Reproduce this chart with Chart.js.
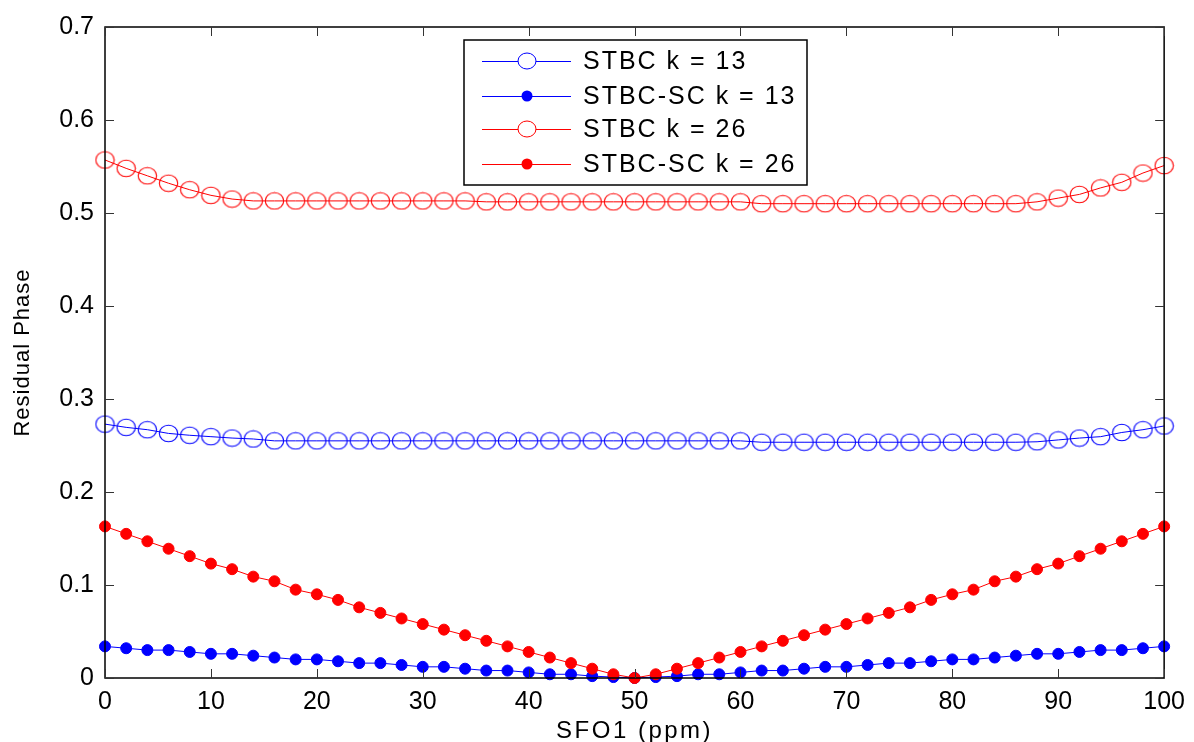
<!DOCTYPE html>
<html>
<head>
<meta charset="utf-8">
<title>Residual Phase vs SFO1</title>
<script src="https://cdn.jsdelivr.net/npm/chart.js@4/dist/chart.umd.min.js"></script>
<style>
  html, body { margin: 0; padding: 0; background: #fff; }
  #wrap { width: 1194px; height: 742px; }
</style>
</head>
<body>
<div id="wrap"><canvas id="phaseChart" width="1194" height="742"></canvas></div>
<script>
// SFO1 sample points (ppm)
const sfo = [0, 2, 4, 6, 8, 10, 12, 14, 16, 18, 20, 22, 24, 26, 28, 30, 32, 34, 36, 38, 40, 42, 44, 46, 48,
             50, 52, 54, 56, 58, 60, 62, 64, 66, 68, 70, 72, 74, 76, 78, 80, 82, 84, 86, 88, 90, 92, 94, 96, 98, 100];

const stbc13 = [0.273, 0.2695, 0.267, 0.263, 0.261, 0.2595, 0.258, 0.257, 0.255, 0.255, 0.255, 0.255, 0.255,
                0.255, 0.255, 0.255, 0.255, 0.255, 0.255, 0.255, 0.255, 0.255, 0.255, 0.255, 0.255, 0.255,
                0.255, 0.255, 0.255, 0.255, 0.255, 0.2535, 0.2535, 0.2535, 0.2535, 0.2535, 0.2535, 0.2535,
                0.2535, 0.2535, 0.2535, 0.2535, 0.2535, 0.2535, 0.254, 0.256, 0.258, 0.2595, 0.264, 0.267, 0.271];

const stbcSc13 = [0.034, 0.032, 0.030, 0.030, 0.028, 0.026, 0.026, 0.024, 0.022, 0.020, 0.020, 0.018, 0.016,
                  0.016, 0.014, 0.012, 0.012, 0.010, 0.008, 0.008, 0.006, 0.004, 0.004, 0.002, 0.001, 0.0,
                  0.001, 0.002, 0.004, 0.004, 0.006, 0.008, 0.008, 0.010, 0.012, 0.012, 0.014, 0.016, 0.016,
                  0.018, 0.020, 0.020, 0.022, 0.024, 0.026, 0.026, 0.028, 0.030, 0.030, 0.032, 0.034];

const stbc26 = [0.557, 0.548, 0.540, 0.532, 0.525, 0.519, 0.515, 0.513, 0.513, 0.513, 0.513, 0.513, 0.513,
                0.513, 0.513, 0.513, 0.513, 0.513, 0.512, 0.512, 0.512, 0.512, 0.512, 0.512, 0.512, 0.512,
                0.512, 0.512, 0.512, 0.512, 0.512, 0.510, 0.510, 0.510, 0.510, 0.510, 0.510, 0.510, 0.510,
                0.510, 0.510, 0.510, 0.510, 0.510, 0.512, 0.516, 0.520, 0.527, 0.533, 0.543, 0.551];

const stbcSc26 = [0.163, 0.155, 0.147, 0.139, 0.131, 0.123, 0.117, 0.109, 0.104, 0.095, 0.090, 0.084, 0.076,
                  0.070, 0.064, 0.058, 0.052, 0.046, 0.040, 0.034, 0.028, 0.022, 0.016, 0.010, 0.004, 0.0,
                  0.004, 0.010, 0.016, 0.022, 0.028, 0.034, 0.040, 0.046, 0.052, 0.058, 0.064, 0.070, 0.076,
                  0.084, 0.090, 0.095, 0.104, 0.109, 0.117, 0.123, 0.131, 0.139, 0.147, 0.155, 0.163];

const seriesNames = ['STBC k = 13', 'STBC-SC k = 13', 'STBC k = 26', 'STBC-SC k = 26'];
const xTicks = [0, 10, 20, 30, 40, 50, 60, 70, 80, 90, 100];
const yTickLabels = ['0', '0.1', '0.2', '0.3', '0.4', '0.5', '0.6', '0.7'];
const xTitle = 'SFO1 (ppm)';
const yTitle = 'Residual Phase';

const FONT = '"Liberation Sans", Arial, sans-serif';

// matlab's open circles come out slightly wider than tall
function ringImage(color) {
    const c = document.createElement('canvas');
    c.width = 21;
    c.height = 19;
    const g = c.getContext('2d');
    g.strokeStyle = color;
    g.lineWidth = 1.1;
    g.beginPath();
    g.ellipse(10.5, 9.5, 9.2, 8.2, 0, 0, Math.PI * 2);
    g.stroke();
    return c;
}

function toPoints(vals) {
    return vals.map((v, i) => ({ x: sfo[i], y: v }));
}

function makeSet(label, vals, color, filled, order) {
    return {
        label: label,
        data: toPoints(vals),
        borderColor: color,
        backgroundColor: color,
        pointBackgroundColor: color,
        pointBorderColor: color,
        pointStyle: filled ? 'circle' : ringImage(color),
        pointRadius: filled ? 5.5 : 9,
        pointHoverRadius: filled ? 5.5 : 9,
        pointBorderWidth: 1,
        borderWidth: 1,
        tension: 0,
        fill: false,
        clip: false,
        order: order,
        isOpen: !filled
    };
}

// box, inward ticks, axis titles
const framePlugin = {
    id: 'frame',
    afterDatasetsDraw(chart) {
        const { ctx, chartArea: a, scales } = chart;
        ctx.save();
        ctx.strokeStyle = '#000';
        ctx.lineWidth = 1.5;
        ctx.strokeRect(a.left, a.top, a.right - a.left, a.bottom - a.top);

        ctx.lineWidth = 1;
        ctx.strokeStyle = '#333';
        const len = 9;
        ctx.beginPath();
        xTicks.forEach(t => {
            const px = Math.round(scales.x.getPixelForValue(t)) + 0.5;
            ctx.moveTo(px, a.bottom); ctx.lineTo(px, a.bottom - len);
            ctx.moveTo(px, a.top); ctx.lineTo(px, a.top + len);
        });
        yTickLabels.forEach((_, i) => {
            const py = Math.round(scales.y.getPixelForValue(i / 10)) + 0.5;
            ctx.moveTo(a.left, py); ctx.lineTo(a.left + len, py);
            ctx.moveTo(a.right, py); ctx.lineTo(a.right - len, py);
        });
        ctx.stroke();

        // axis titles
        ctx.fillStyle = '#000';
        ctx.font = '24px ' + FONT;
        ctx.letterSpacing = '2.5px';
        ctx.textAlign = 'center';
        ctx.textBaseline = 'alphabetic';
        ctx.fillText(xTitle, (a.left + a.right) / 2, 738);

        ctx.font = '22px ' + FONT;
        ctx.letterSpacing = '1px';
        ctx.translate(29, (a.top + a.bottom) / 2);
        ctx.rotate(-Math.PI / 2);
        ctx.fillText(yTitle, 0, 0);
        ctx.restore();
    }
};

// legend box inside the plot
const legendPlugin = {
    id: 'boxLegend',
    afterDraw(chart) {
        const { ctx } = chart;
        const sets = chart.data.datasets;
        const box = { x: 464, y: 40, w: 343, h: 145 };
        const rows = [61, 96, 129, 164];
        ctx.save();
        ctx.fillStyle = '#fff';
        ctx.fillRect(box.x, box.y, box.w, box.h);
        ctx.strokeStyle = '#000';
        ctx.lineWidth = 1.5;
        ctx.strokeRect(box.x, box.y, box.w, box.h);

        sets.forEach((ds, i) => {
            const y = rows[i];
            ctx.strokeStyle = ds.borderColor;
            ctx.lineWidth = 1;
            ctx.beginPath();
            ctx.moveTo(482, y + 0.5);
            ctx.lineTo(571, y + 0.5);
            ctx.stroke();

            ctx.beginPath();
            if (ds.isOpen) {
                ctx.fillStyle = '#fff';
                ctx.ellipse(527, y, 9, 8, 0, 0, Math.PI * 2);
                ctx.fill();
                ctx.stroke();
            } else {
                ctx.fillStyle = ds.borderColor;
                ctx.arc(527, y, 5.5, 0, Math.PI * 2);
                ctx.fill();
            }

            ctx.fillStyle = '#000';
            ctx.font = '25px ' + FONT;
            ctx.letterSpacing = '2px';
            ctx.textAlign = 'left';
            ctx.textBaseline = 'middle';
            ctx.fillText(ds.label, 583, y + 1);
        });
        ctx.restore();
    }
};

const ctx = document.getElementById('phaseChart').getContext('2d');

new Chart(ctx, {
    type: 'line',
    data: {
        datasets: [
            makeSet(seriesNames[0], stbc13, '#0000ff', false, 4),
            makeSet(seriesNames[1], stbcSc13, '#0000ff', true, 3),
            makeSet(seriesNames[2], stbc26, '#ff0000', false, 2),
            makeSet(seriesNames[3], stbcSc26, '#ff0000', true, 1)
        ]
    },
    options: {
        responsive: false,
        animation: false,
        events: [],
        layout: {
            padding: { top: 27, right: 26, left: 0, bottom: 0 }
        },
        plugins: {
            legend: { display: false },
            tooltip: { enabled: false }
        },
        scales: {
            x: {
                type: 'linear',
                min: 0,
                max: 100,
                afterBuildTicks: s => { s.ticks = xTicks.map(v => ({ value: v })); },
                afterFit: s => { s.height = 64; },
                ticks: {
                    color: '#000',
                    font: { family: FONT, size: 25 },
                    padding: 9,
                    maxRotation: 0,
                    autoSkip: false
                },
                grid: { display: false, drawTicks: false },
                border: { display: false }
            },
            y: {
                min: 0,
                max: 0.7,
                afterBuildTicks: s => { s.ticks = yTickLabels.map((_, i) => ({ value: i / 10 })); },
                afterFit: s => { s.width = 105; },
                ticks: {
                    color: '#000',
                    font: { family: FONT, size: 25 },
                    padding: 11,
                    autoSkip: false,
                    callback: (v, i) => yTickLabels[i]
                },
                grid: { display: false, drawTicks: false },
                border: { display: false }
            }
        }
    },
    plugins: [framePlugin, legendPlugin]
});
</script>
</body>
</html>
